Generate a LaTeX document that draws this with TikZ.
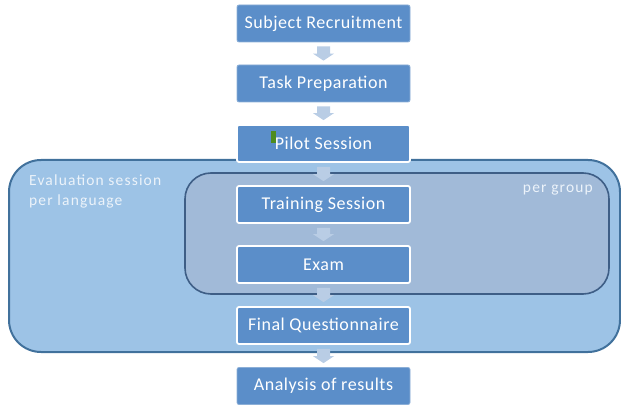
\documentclass[tikz,border=0pt]{standalone}
\usepackage{fontspec}
\setmainfont{Carlito}
\newfontfamily\boxfont[LetterSpace=3]{Carlito}
\newfontfamily\labfont[LetterSpace=7.5]{Carlito}
\usetikzlibrary{calc}
\definecolor{boxc}{RGB}{91,142,201}
\definecolor{outerfill}{RGB}{157,195,230}
\definecolor{outerdraw}{RGB}{65,113,156}
\definecolor{innerfill}{RGB}{161,186,216}
\definecolor{innerdraw}{RGB}{62,94,134}
\definecolor{arrc}{RGB}{185,205,229}
\definecolor{topedge}{RGB}{140,175,215}
\definecolor{labc}{RGB}{236,243,250}
\definecolor{markc}{RGB}{78,140,30}
\tikzset{
  box/.style={fill=boxc, draw=topedge, line width=0.8pt, rounded corners=2pt,
    minimum width=173pt, minimum height=37pt, inner sep=0pt,
    text=white, font=\boxfont\fontsize{18}{20}\selectfont},
  inbox/.style={box, draw=white, line width=1.8pt},
  arr/.style={fill=arrc, draw=none},
  lab/.style={text=labc, font=\labfont\fontsize{15.5}{19.5}\selectfont, inner sep=0pt}
}
\begin{document}
\begin{tikzpicture}[x=1pt,y=-1pt]
\useasboundingbox (0,0) rectangle (621,406);
% containers
\path[fill=outerfill, draw=outerdraw, line width=2pt, rounded corners=32pt]
  (9,160) rectangle (620,352);
\path[fill=innerfill, draw=innerdraw, line width=1.6pt, rounded corners=26pt]
  (185,173) rectangle (609,294);
\node[lab, anchor=north west, align=left] (evl) at (29,175) {Evaluation session\\per language};
\node[lab, anchor=north east] (grp) at (593,185) {per group};
% boxes
\node[box]   (b1) at (323.5,23.5)  {Subject Recruitment};
\node[box]   (b2) at (323.5,83.5)  {Task Preparation};
\node[inbox] (b3) at (323.5,143.5) {Pilot Session};
\node[inbox] (b4) at (323.5,204.5) {Training Session};
\node[inbox] (b5) at (323.5,264.5) {Exam};
\node[inbox] (b6) at (323.5,325.5) {Final Questionnaire};
\node[box]   (b7) at (323.5,386)   {Analysis of results};
% green mark
\fill[markc] (271,131) rectangle (276,143);
% arrows
\foreach \a/\b in {b1/b2,b2/b3,b3/b4,b4/b5,b5/b6,b6/b7}{
  \fill[arr] ($(\a.south)+(-6.5,4)$) -- ($(\a.south)+(6.5,4)$)
    -- ($(\b.north)+(6.5,-11)$) -- ($(\b.north)+(10.5,-11)$)
    -- ($(\b.north)+(0,-4)$) -- ($(\b.north)+(-10.5,-11)$)
    -- ($(\b.north)+(-6.5,-11)$) -- cycle;
}
\end{tikzpicture}
\end{document}
